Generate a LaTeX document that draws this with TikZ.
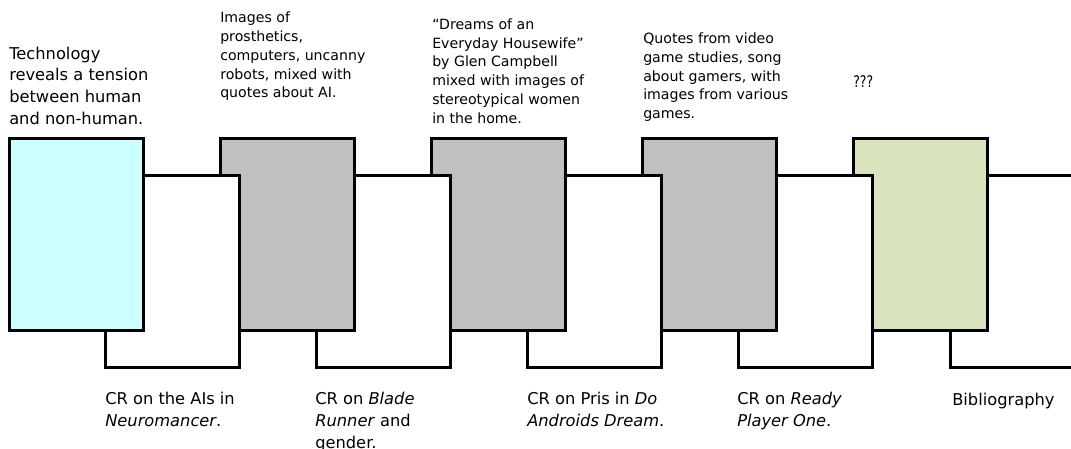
\documentclass[tikz,border=0pt]{standalone}
\usepackage{graphicx}
\usepackage{fontspec}
\setmainfont{DejaVu Sans}
\definecolor{cyanfill}{HTML}{CCFFFF}
\definecolor{grayfill}{HTML}{C0C0C0}
\definecolor{greenfill}{HTML}{D7E4BD}
\begin{document}
\begin{tikzpicture}[x=0.75pt,y=-0.75pt,
  card/.style={draw=black, line width=2.25pt, anchor=north west, minimum width=100.5pt,
    minimum height=143.5pt, inner sep=0pt, outer sep=0pt},
  bigtxt/.style={anchor=base west, inner sep=0pt, align=left,
    font=\fontsize{12.2pt}{16.3pt}\selectfont},
  smalltxt/.style={anchor=base west, inner sep=0pt, align=left,
    font=\fontsize{10.6pt}{14.1pt}\selectfont}
]
\useasboundingbox (0,0) rectangle (1071,449);
\clip (0,0) rectangle (1071,449);
% draw from right to left so each left card overlaps the next
\node[card, fill=white]     (w5) at (950,176) {};
\node[card, fill=greenfill] (g5) at (853,139) {};
\node[card, fill=white]     (w4) at (738,176) {};
\node[card, fill=grayfill]  (g4) at (642,139) {};
\node[card, fill=white]     (w3) at (527,176) {};
\node[card, fill=grayfill]  (g3) at (431,139) {};
\node[card, fill=white]     (w2) at (316,176) {};
\node[card, fill=grayfill]  (g2) at (220,139) {};
\node[card, fill=white]     (w1) at (105,176) {};
\node[card, fill=cyanfill]  (c1) at (9,139) {};
% top texts (anchored at the baseline of their last line)
\node[bigtxt] (t1) at (9,124.3) {Technology\\reveals a tension\\between human\\and non-human.};
\node[smalltxt] (t2) at (220,97.9) {Images of\\prosthetics,\\computers, uncanny\\robots, mixed with\\quotes about AI.};
\node[smalltxt] (t3) at (432,123.3) {“Dreams of an\\Everyday Housewife”\\by Glen Campbell\\mixed with images of\\stereotypical women\\in the home.};
\node[smalltxt] (t4) at (643,118.7) {Quotes from video\\game studies, song\\about gamers, with\\images from various\\games.};
\node[smalltxt, font=\fontsize{12pt}{14pt}\selectfont] (t5) at (853,87.3) {\scalebox{0.78}[1]{???}};
% bottom texts
\node[bigtxt] (b1) at (105,426.7) {CR on the AIs in\\\textit{Neuromancer}.};
\node[bigtxt] (b2) at (315,448.4) {CR on \textit{Blade}\\\textit{Runner} and\\gender.};
\node[bigtxt] (b3) at (527,426.7) {CR on Pris in \textit{Do}\\\textit{Androids Dream}.};
\node[bigtxt] (b4) at (737,426.7) {CR on \textit{Ready}\\\textit{Player One}.};
\node[bigtxt] (b5) at (952,405) {Bibliography};
\end{tikzpicture}
\end{document}
